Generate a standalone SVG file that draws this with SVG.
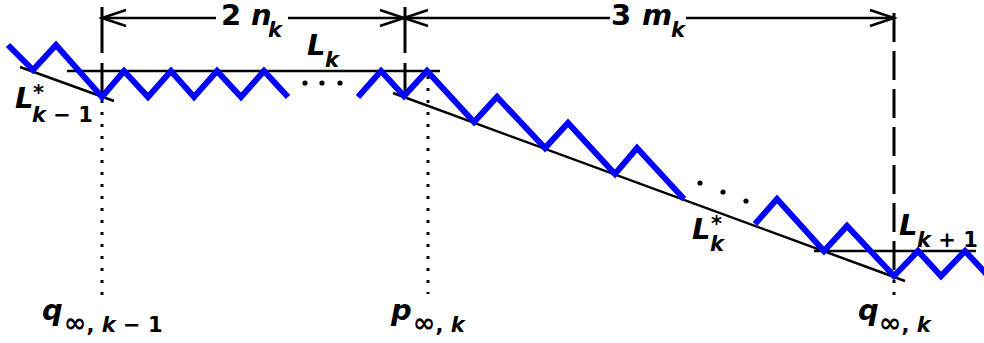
<svg xmlns="http://www.w3.org/2000/svg" width="984" height="343" viewBox="0 0 984 343">
<style>
.zig{fill:none;stroke:#0000ff;stroke-width:6;stroke-linejoin:miter;stroke-miterlimit:10}
.ln{fill:none;stroke:#000;stroke-width:2.5}
.dash{fill:none;stroke:#000;stroke-width:3;stroke-dasharray:46,10}
.dash2{fill:none;stroke:#000;stroke-width:3;stroke-dasharray:29,9}
.dot{fill:none;stroke:#000;stroke-width:3;stroke-dasharray:3,9}
.arr{fill:none;stroke:#000;stroke-width:2.5}
text{font-family:"DejaVu Sans","Liberation Sans",sans-serif;font-weight:bold;fill:#000}
.big{font-size:29px}
.sub{font-size:21px}
.inf{font-size:27px}
.it{font-style:italic}
</style>
<g id="connectors">
  <path class="ln" d="M102,18 H216 M288,18 H404"/>
  <path class="ln" d="M404,18 H610 M686,18 H894"/>
  <path class="arr" d="M126,10 L102,18 L126,26"/>
  <path class="arr" d="M380,10 L404,18 L380,26"/>
  <path class="arr" d="M428,10 L404,18 L428,26"/>
  <path class="arr" d="M870,10 L894,18 L870,26"/>
  <path class="dash" d="M102,7 V97"/>
  <path class="dash" d="M405,7 V97"/>
  <path class="dash2" d="M894,13 V276"/>
  <path class="dot" d="M102,100 V304"/>
  <path class="dot" d="M428,76 V294"/>
  <path class="dot" d="M894,280 V296"/>
  <path class="ln" d="M67,71 H440"/>
  <path class="ln" d="M20,67 L114,101"/>
  <path class="ln" d="M393,93 L905,281"/>
  <path class="ln" d="M814,251 H976"/>
</g>
<g id="zigzag">
  <polyline class="zig" points="8,45 33,70 56,45 102,97 124,71 148,97 171,71 194,97 217,71 241,97 264,71 288,97"/>
  <polyline class="zig" points="358,97 381,71 404,96 427,71 474,122 497,97 545,148 568,123 615,174 637,148 684,199"/>
  <polyline class="zig" points="755,224 777,199 824,251 847,226 894,276 918,251 941,276 965,251 990,278"/>
</g>
<g id="ellipses">
  <circle cx="305" cy="83" r="2.6"/>
  <circle cx="322" cy="83" r="2.6"/>
  <circle cx="340" cy="83" r="2.6"/>
  <circle cx="700" cy="183" r="2.6"/>
  <circle cx="723" cy="192" r="2.6"/>
  <circle cx="746" cy="201" r="2.6"/>
</g>
<g id="label-2nk">
  <text class="big" x="221" y="25">2</text>
  <text class="big it" x="251" y="25">n</text>
  <text class="sub it" x="268" y="37">k</text>
</g>
<g id="label-3mk">
  <text class="big" x="611" y="25">3</text>
  <text class="big it" x="642" y="25">m</text>
  <text class="sub it" x="671" y="37">k</text>
</g>
<g id="label-Lk">
  <text class="big it" x="307" y="55">L</text>
  <text class="sub it" x="325" y="67">k</text>
</g>
<g id="label-Lstar-km1">
  <text class="big it" x="15" y="108">L</text>
  <text class="sub" x="33" y="100">*</text>
  <text class="sub" x="32" y="122"><tspan class="it">k</tspan> − 1</text>
</g>
<g id="label-Lstar-k">
  <text class="big it" x="692" y="239">L</text>
  <text class="sub" x="711" y="231">*</text>
  <text class="sub it" x="710" y="251">k</text>
</g>
<g id="label-Lkp1">
  <text class="big it" x="899" y="235">L</text>
  <text class="sub" x="917" y="247"><tspan class="it">k</tspan> + 1</text>
</g>
<g id="label-q-km1">
  <text class="big it" x="42" y="320">q</text>
  <text class="sub" x="64" y="332"><tspan class="inf">∞</tspan>, <tspan class="it">k</tspan> − 1</text>
</g>
<g id="label-p-k">
  <text class="big it" x="391" y="320">p</text>
  <text class="sub" x="413" y="332"><tspan class="inf">∞</tspan>, <tspan class="it">k</tspan></text>
</g>
<g id="label-q-k">
  <text class="big it" x="858" y="320">q</text>
  <text class="sub" x="879" y="332"><tspan class="inf">∞</tspan>, <tspan class="it">k</tspan></text>
</g>
</svg>
